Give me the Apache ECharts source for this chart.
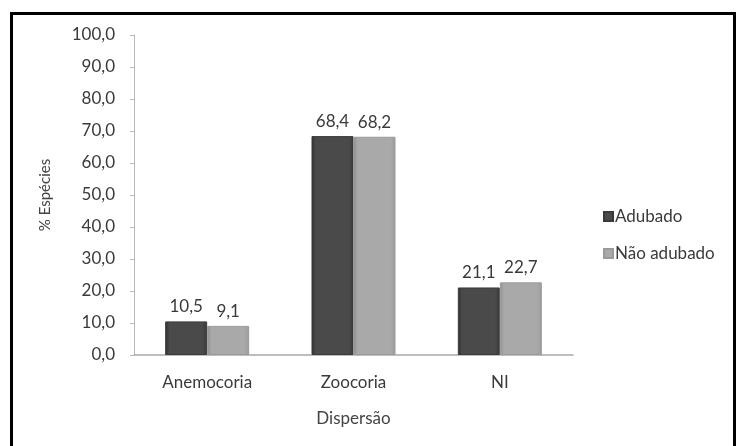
<!DOCTYPE html>
<html>
<head>
<meta charset="utf-8">
<script src="https://cdn.jsdelivr.net/npm/echarts@6/dist/echarts.min.js"></script>
<style>
  html, body { margin: 0; padding: 0; background: #fff; }
  #frame { position: absolute; left: 10px; top: 12px; width: 726px; height: 450px; border: 3px solid #000; box-sizing: border-box; border-bottom: none; }
  #chart { position: absolute; left: 0; top: 0; width: 739px; height: 446px; }
</style>
</head>
<body>
<div id="chart"></div>
<div id="frame"></div>
<script>
// Seed dispersal syndromes, % of species per treatment
const categories = ['Anemocoria', 'Zoocoria', 'NI'];
const adubado = [10.5, 68.4, 21.1];
const naoAdubado = [9.1, 68.2, 22.7];
const seriesNames = ['Adubado', 'Não adubado'];

const FONT = 'Lato, "Open Sans", sans-serif';
const TEXT = '#3a3a3a';
const fmt = v => v.toFixed(1).replace('.', ',');

// Bevelled column fill: darker edges, flat middle
function barFill(dark, mid, light) {
  return new echarts.graphic.LinearGradient(0, 0, 1, 0, [
    { offset: 0, color: dark },
    { offset: 0.1, color: mid },
    { offset: 0.88, color: mid },
    { offset: 1, color: light }
  ]);
}

const chart = echarts.init(document.getElementById('chart'), null, { renderer: 'canvas' });
chart.setOption({
  backgroundColor: '#fff',
  animation: false,
  textStyle: { fontFamily: FONT },
  grid: { left: 134, top: 35, right: 166, bottom: 91 },
  legend: {
    orient: 'vertical',
    left: 598,
    top: 203,
    itemWidth: 9,
    itemHeight: 9,
    itemGap: 20,
    icon: 'rect',
    textStyle: { fontSize: 17, color: TEXT, fontFamily: FONT, padding: [0, 0, 0, -3] },
    data: seriesNames
  },
  xAxis: {
    type: 'category',
    data: categories,
    name: 'Dispersão',
    nameLocation: 'middle',
    nameGap: 55,
    nameTextStyle: { fontSize: 17, color: '#444', fontFamily: FONT },
    axisLine: { lineStyle: { color: '#a8a8a8', width: 1.5 } },
    axisTick: { show: false },
    axisLabel: { fontSize: 17, color: TEXT, margin: 19, fontFamily: FONT }
  },
  yAxis: {
    type: 'value',
    min: 0,
    max: 100,
    interval: 10,
    name: '% Espécies',
    nameLocation: 'middle',
    nameGap: 81,
    nameTextStyle: { fontSize: 15, color: '#444', fontFamily: FONT },
    axisLine: { show: true, lineStyle: { color: '#b8b8b8' } },
    axisTick: { show: true, length: 4, lineStyle: { color: '#b8b8b8' } },
    splitLine: { show: false },
    axisLabel: { fontSize: 17, color: TEXT, margin: 19, formatter: fmt, fontFamily: FONT }
  },
  series: [
    {
      name: seriesNames[0],
      type: 'bar',
      data: adubado,
      barWidth: 42,
      barGap: '0%',
      itemStyle: { color: barFill('#2e2e2e', '#4a4a4a', '#3a3a3a'), borderColor: '#3a3a3a', borderWidth: 1 },
      label: { show: true, position: 'top', distance: 6, fontSize: 17, color: TEXT, formatter: p => fmt(p.value), fontFamily: FONT }
    },
    {
      name: seriesNames[1],
      type: 'bar',
      data: naoAdubado,
      barWidth: 42,
      itemStyle: { color: barFill('#8e8e8e', '#a9a9a9', '#9c9c9c'), borderColor: '#9a9a9a', borderWidth: 1 },
      label: { show: true, position: 'top', distance: 6, fontSize: 17, color: TEXT, formatter: p => fmt(p.value), fontFamily: FONT }
    }
  ]
});
</script>
</body>
</html>
